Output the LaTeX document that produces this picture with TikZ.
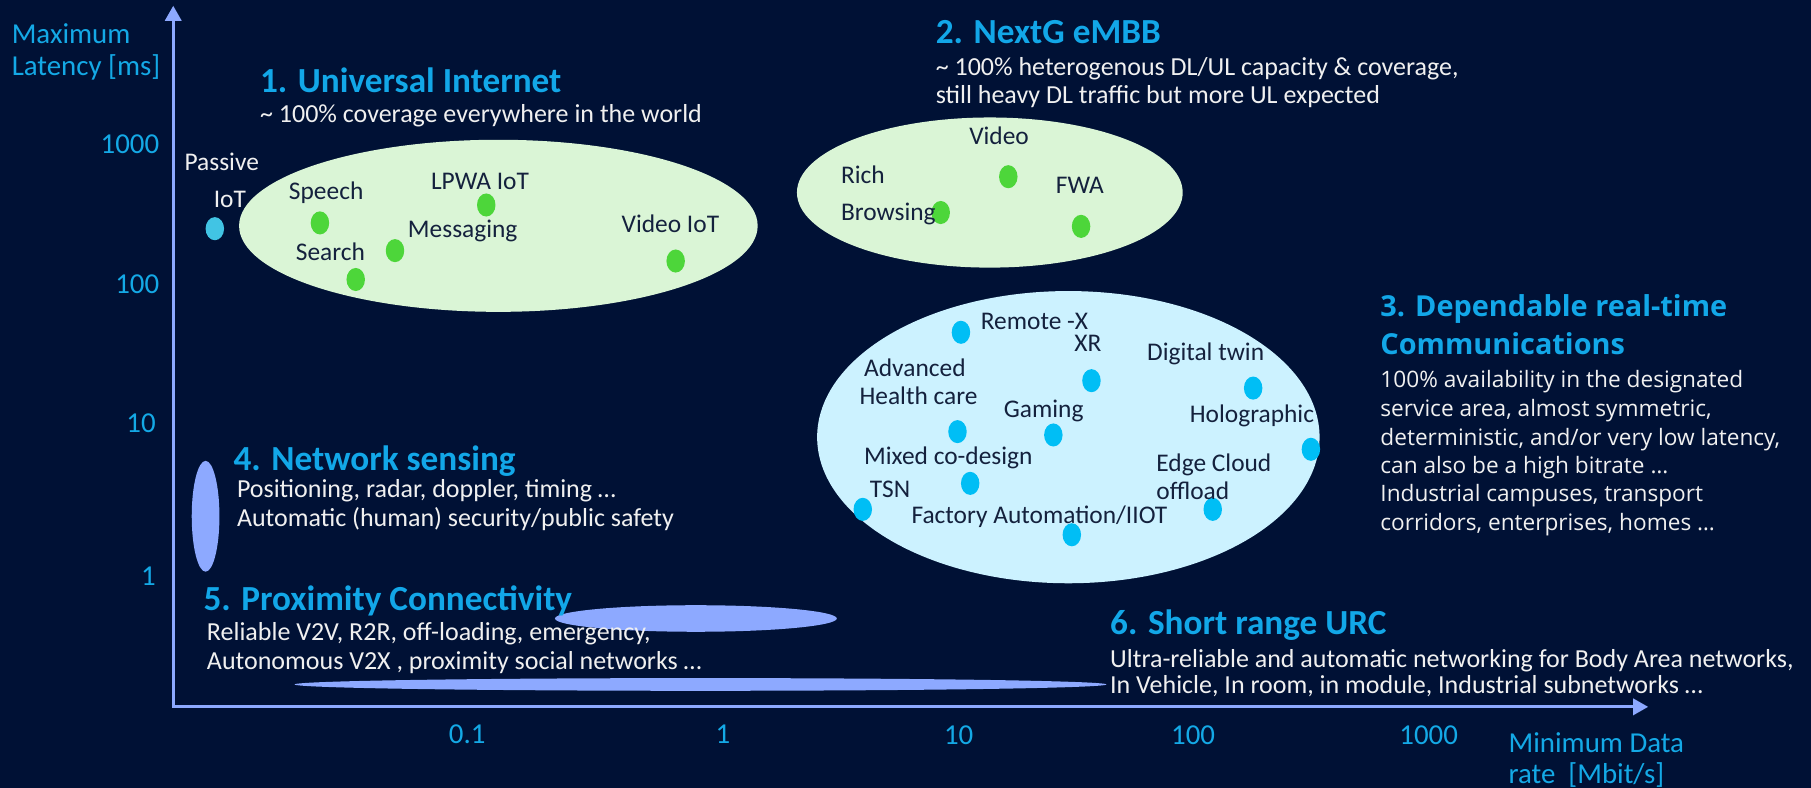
\documentclass[tikz,border=0pt]{standalone}
\usepackage{fontspec}
\setmainfont{Carlito}
\newfontfamily\widefont{Open Sans}
\usetikzlibrary{arrows.meta,shapes.geometric}
\definecolor{bg}{HTML}{001135}
\definecolor{axisc}{HTML}{8DA9FF}
\definecolor{titlec}{HTML}{12A7E8}
\definecolor{tickc}{HTML}{14A9E6}
\definecolor{labelc}{HTML}{14213D}
\definecolor{bodyc}{HTML}{F0F0F0}
\definecolor{greenzone}{HTML}{DAF5D6}
\definecolor{cyanzone}{HTML}{CCF2FF}
\definecolor{greendot}{HTML}{4DD63A}
\definecolor{bluedot}{HTML}{00BEF5}
\definecolor{passdot}{HTML}{41C4E4}
\tikzset{
  zone/.style={ellipse, inner sep=0pt, draw=none},
  dotg/.style={ellipse, inner sep=0pt, minimum width=16pt, minimum height=20pt, fill=greendot},
  dotb/.style={ellipse, inner sep=0pt, minimum width=16pt, minimum height=20pt, fill=bluedot},
  lbl/.style={font=\fontsize{22}{26}\selectfont, text=labelc, inner sep=0pt, anchor=base west},
  axtitle/.style={font=\fontsize{25}{27}\selectfont, text=tickc, inner sep=0pt, anchor=base west},
  tick/.style={font=\fontsize{25}{28}\selectfont, text=tickc, inner sep=0pt, anchor=base},
  ytick/.style={tick, anchor=base east},
  sectitle/.style={font=\bfseries\fontsize{30.5}{32}\selectfont, text=titlec, inner sep=0pt, anchor=base west},
  body/.style={font=\fontsize{22.5}{25}\selectfont, text=bodyc, inner sep=0pt, anchor=base west},
  widetitle/.style={font=\widefont\bfseries\fontsize{25}{28}\selectfont, text=titlec, inner sep=0pt, anchor=base west},
  widebody/.style={font=\widefont\fontsize{19.6}{24}\selectfont, text=bodyc, inner sep=0pt, anchor=base west},
}
\begin{document}
\begin{tikzpicture}[x=1pt,y=-1pt]
\fill[bg] (0,0) rectangle (1568,682);
\useasboundingbox (0,0) rectangle (1568,682);

% zones
\node[zone, fill=greenzone, minimum width=449pt, minimum height=149pt] (zone1) at (431.5,195.5) {};
\node[zone, fill=greenzone, minimum width=334pt, minimum height=130pt] (zone2) at (857,166.7) {};
\node[zone, fill=cyanzone, minimum width=435pt, minimum height=253pt] (zone3) at (925,378.5) {};
\node[zone, fill=axisc, minimum width=24pt, minimum height=96pt] (zone4) at (178,447) {};
\node[zone, fill=axisc, minimum width=244pt, minimum height=23pt] (zone5) at (602.5,535.5) {};
\node[zone, fill=axisc, minimum width=703pt, minimum height=11pt] (zone6) at (606.5,592.6) {};

% axes
\coordinate (O) at (150,612);
\coordinate (Ytip) at (150,5);
\coordinate (Xtip) at (1427,612);
\draw[axisc, line width=2.5pt, {Triangle[length=13pt,width=14pt]}-{Triangle[length=13pt,width=14pt]}] (Ytip) -- (O) -- (Xtip);

\node[axtitle] (ytitle1) at (10,37.5) {Maximum};
\node[axtitle] (ytitle2) at (10,65) {Latency [ms]};
\node[axtitle] (xtitle1) at (1306,651.7) {Minimum Data};
\node[axtitle] (xtitle2) at (1306,678.2) {rate~~[Mbit/s]};

\node[ytick] (y1000) at (138,133.3) {1000};
\node[ytick] (y100) at (138,254.5) {100};
\node[ytick] (y10) at (135,374.6) {10};
\node[ytick] (y1) at (135,506.5) {1};
\node[tick] (x01) at (404.5,644) {0.1};
\node[tick] (x1) at (626,644) {1};
\node[tick] (x10) at (830,645) {10};
\node[tick] (x100) at (1033,645) {100};
\node[tick] (x1000) at (1237,645) {1000};

% dots
\node[dotg, fill=passdot] (dpassive) at (186,198) {};
\node[dotg] (dspeech) at (277,193) {};
\node[dotg] (dsearch) at (308,242) {};
\node[dotg] (dmessaging) at (342,217) {};
\node[dotg] (dlpwa) at (421,177.5) {};
\node[dotg] (dvideoiot) at (585,226) {};
\node[dotg] (dbrowsing) at (814.5,184) {};
\node[dotg] (dvideo) at (873,153) {};
\node[dotg] (dfwa) at (936,196) {};
\node[dotb] (dremote) at (832,287.7) {};
\node[dotb] (dxr) at (945,329.6) {};
\node[dotb] (dtwin) at (1085,336) {};
\node[dotb] (dhealth) at (829,373.7) {};
\node[dotb] (dgaming) at (912,376.6) {};
\node[dotb] (dholo) at (1135,389) {};
\node[dotb] (dmixed) at (840,418.5) {};
\node[dotb] (dtsn) at (747,441) {};
\node[dotb] (dedge) at (1050,441) {};
\node[dotb] (dfactory) at (928,463) {};

% labels in zone 1
\node[lbl, anchor=base, text=bodyc] (lpassive) at (192,147.8) {Passive};
\node[lbl, anchor=base, text=bodyc] (liot) at (199,179.8) {IoT};
\node[lbl] (lspeech) at (250,172.6) {Speech};
\node[lbl] (llpwa) at (373,164.5) {LPWA IoT};
\node[lbl] (lmessaging) at (353,205.5) {Messaging};
\node[lbl] (lsearch) at (256,225.7) {Search};
\node[lbl] (lvideoiot) at (538,201.4) {Video IoT};
% zone 2
\node[lbl] (lvideo) at (839,124.7) {Video};
\node[lbl] (lrich) at (728,159.3) {Rich};
\node[lbl] (lbrowsing) at (728,191) {Browsing};
\node[lbl] (lfwa) at (914,167.4) {FWA};
% zone 3
\node[lbl] (lremote) at (849,285.7) {Remote -X};
\node[lbl] (lxr) at (930,304.5) {XR};
\node[lbl] (ltwin) at (993,311.7) {Digital twin};
\node[lbl] (ladvanced) at (748,326.1) {Advanced};
\node[lbl] (lhealth) at (744,350.6) {Health care};
\node[lbl] (lgaming) at (869,361.3) {Gaming};
\node[lbl] (lholo) at (1030,366) {Holographic};
\node[lbl] (lmixed) at (748,402) {Mixed co-design};
\node[lbl] (ledge) at (1001,408.4) {Edge Cloud};
\node[lbl] (ltsn) at (753,430.6) {TSN};
\node[lbl] (loffload) at (1001,432.3) {offload};
\node[lbl] (lfactory) at (789,453.6) {Factory Automation/IIOT};

% section 1
\node[sectitle] (t1) at (225,80.2) {1. Universal Internet};
\node[body] (b1) at (225,106) {\textasciitilde{} 100\% coverage everywhere in the world};
% section 2
\node[sectitle] (t2) at (810,37.5) {2. NextG eMBB};
\node[body] (b2a) at (810,65.8) {\textasciitilde{} 100\% heterogenous DL/UL capacity \& coverage,};
\node[body] (b2b) at (810,90) {still heavy DL traffic but more UL expected};
% section 3
\node[widetitle] (t3a) at (1195,273.6) {3. Dependable real-time};
\node[widetitle] (t3b) at (1195,306.5) {Communications};
\node[widebody] (b3a) at (1195,335.4) {100\% availability in the designated};
\node[widebody] (b3b) at (1195,360.2) {service area, almost symmetric,};
\node[widebody] (b3c) at (1195,385.3) {deterministic, and/or very low latency,};
\node[widebody] (b3d) at (1195,409.8) {can also be a high bitrate \dots};
\node[widebody] (b3e) at (1195,434.6) {Industrial campuses, transport};
\node[widebody] (b3f) at (1195,459.4) {corridors, enterprises, homes \dots};
% section 4
\node[sectitle] (t4) at (202,407) {4. Network sensing};
\node[body] (b4a) at (205,430.9) {Positioning, radar, doppler, timing \dots};
\node[body] (b4b) at (205,456) {Automatic (human) security/public safety};
% section 5
\node[sectitle] (t5) at (176,528.2) {5. Proximity Connectivity};
\node[body] (b5a) at (179,554.7) {Reliable V2V, R2R, off-loading, emergency,};
\node[body] (b5b) at (179,579.5) {Autonomous V2X , proximity social networks \dots};
% section 6
\node[sectitle] (t6) at (961,549) {6. Short range URC};
\node[body] (b6a) at (961,577.8) {Ultra-reliable and automatic networking for Body Area networks,};
\node[body] (b6b) at (961,600.3) {In Vehicle, In room, in module, Industrial subnetworks \dots};
\end{tikzpicture}
\end{document}
